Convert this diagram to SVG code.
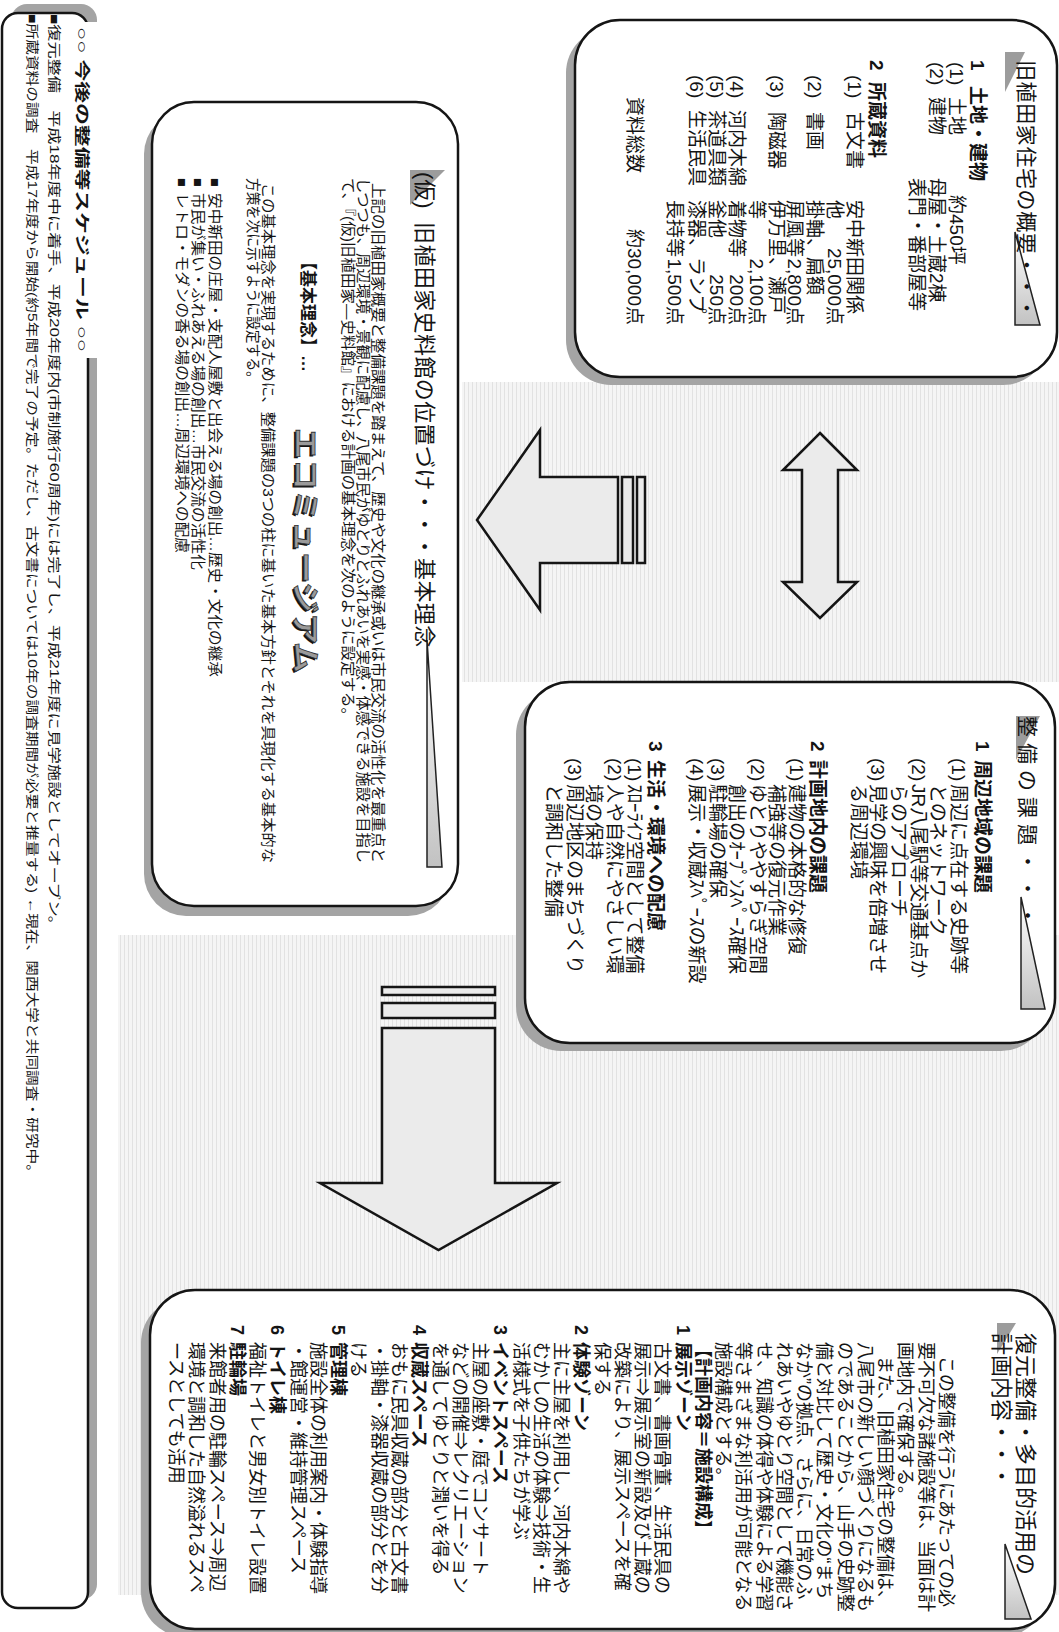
<svg xmlns="http://www.w3.org/2000/svg" width="1059" height="1632" viewBox="0 0 1059 1632">
<defs>
<style>
.t{font-family:"Liberation Sans","Noto Sans CJK JP",sans-serif;fill:#141414}
.f13{font-size:13px}
.f145{font-size:14.5px}
.f15{font-size:15px}
.f17{font-size:17px}
.f18{font-size:18px}
.f19{font-size:19px}
.f21{font-size:21px}
.f22{font-size:22px}
.b{font-weight:bold}
.end{text-anchor:end}
.box{fill:#fff;stroke:#151515;stroke-width:2.5}
.shadow{fill:#a4a4a4}
.flag{fill:#9c9c9c}
.tri{fill:url(#triGrad);stroke:#222;stroke-width:1.5;stroke-linejoin:miter}
.arrow{fill:#ebebeb;stroke:#151515;stroke-width:2.5;stroke-linejoin:miter}
.bg{fill:url(#stip)}
</style>
<linearGradient id="triGrad" x1="0" y1="0" x2="0" y2="1">
<stop offset="0" stop-color="#ffffff"/>
<stop offset="1" stop-color="#c2c2c2"/>
</linearGradient>
<pattern id="stip" width="4" height="4" patternUnits="userSpaceOnUse">
<rect width="4" height="4" fill="#f5f5f5"/>
<rect width="1" height="4" fill="#e2e2e2"/>
</pattern>
</defs>
<rect width="1059" height="1632" fill="#fff"/>
<rect class="bg" x="462" y="382" width="597" height="300"/>
<rect class="bg" x="118" y="935" width="941" height="660"/>

<!-- Left strip: schedule -->
<g id="schedule">
<rect class="shadow" x="11" y="4" width="86" height="1596" rx="16"/>
<rect class="box" x="2" y="13" width="86" height="1595" rx="16"/>
<rect x="74" y="22" width="26" height="336" fill="#fff"/>
<g transform="translate(1059 0) rotate(90)">
<text class="t f15 b" x="27" y="981.7" textLength="325" lengthAdjust="spacingAndGlyphs">○○ 今後の整備等スケジュール ○○</text>
<text class="t f13" x="14" y="1009" textLength="919" lengthAdjust="spacingAndGlyphs">■復元整備　平成18年度中に着手、平成20年度内(市制施行60周年)には完了し、平成21年度に見学施設としてオープン。</text>
<text class="t f13" x="14" y="1031" textLength="1166" lengthAdjust="spacingAndGlyphs">■所蔵資料の調査　平成17年度から開始(約5年間で完了の予定。ただし、古文書については10年の調査期間が必要と推量する) ←現在、関西大学と共同調査・研究中。</text>
</g>
</g>

<!-- Box A: overview -->
<g id="overview">
<rect class="shadow" x="566" y="28" width="482" height="357" rx="45"/>
<rect class="box" x="575" y="20" width="482" height="357" rx="45"/>
<polygon class="flag" points="1005,52 1025,52 1005,92"/>
<polygon class="tri" points="1015,232 1040,325 1015,325"/>
<g transform="translate(1059 0) rotate(90)">
<text class="t f21" x="60" y="40" letter-spacing="0.6">旧植田家住宅の概要・・・</text>
<text class="t f19 b" y="88"><tspan x="60">1</tspan><tspan x="86">土地・建物</tspan></text>
<text class="t f19" y="109"><tspan x="62">(1)</tspan><tspan x="97">土地</tspan><tspan x="195">約450坪</tspan></text>
<text class="t f19" y="129"><tspan x="62">(2)</tspan><tspan x="97">建物</tspan><tspan x="178">母屋・土蔵2棟</tspan></text>
<text class="t f19" x="178" y="149">表門・番部屋等</text>
<text class="t f19 b" y="189"><tspan x="60">2</tspan><tspan x="82">所蔵資料</tspan></text>
<text class="t f19" y="211"><tspan x="75">(1)</tspan><tspan x="112">古文書</tspan><tspan x="200">安中新田関係</tspan></text>
<text class="t f19" x="200" y="231">他</text>
<text class="t f19 end" x="325" y="231">25,000点</text>
<text class="t f19" y="251"><tspan x="75">(2)</tspan><tspan x="112">書画</tspan><tspan x="200">掛軸、扁額</tspan></text>
<text class="t f19" x="200" y="271">屏風等</text>
<text class="t f19 end" x="325" y="271">2,800点</text>
<text class="t f19" y="289"><tspan x="75">(3)</tspan><tspan x="112">陶磁器</tspan><tspan x="200">伊万里、瀬戸</tspan></text>
<text class="t f19" x="200" y="309">等</text>
<text class="t f19 end" x="325" y="309">2,100点</text>
<text class="t f19" y="329"><tspan x="75">(4)</tspan><tspan x="110">河内木綿</tspan><tspan x="200">着物等</tspan></text>
<text class="t f19 end" x="325" y="329">200点</text>
<text class="t f19" y="349"><tspan x="75">(5)</tspan><tspan x="110">茶道具類</tspan><tspan x="200">釜他</tspan></text>
<text class="t f19 end" x="325" y="349">250点</text>
<text class="t f19" y="369"><tspan x="75">(6)</tspan><tspan x="110">生活民具</tspan><tspan x="200">漆器、ランプ</tspan></text>
<text class="t f19" x="200" y="391">長持等</text>
<text class="t f19 end" x="325" y="391">1,500点</text>
<text class="t f19" x="97" y="431">資料総数</text>
<text class="t f19 end" x="325" y="431">約30,000点</text>
</g>
</g>

<!-- Box B: issues -->
<g id="issues">
<rect class="shadow" x="516" y="690" width="530" height="361" rx="45"/>
<rect class="box" x="525" y="682" width="530" height="361" rx="45"/>
<polygon class="flag" points="1016,716 1040,716 1016,760"/>
<polygon class="tri" points="1021,897 1045,1009 1021,1009"/>
<g transform="translate(1059 0) rotate(90)">
<text class="t f21" x="716" y="39" letter-spacing="6">整備の課題・・・</text>
<text class="t f19 b" y="83"><tspan x="741">1</tspan><tspan x="760">周辺地域の課題</tspan></text>
<text class="t f19" y="107"><tspan x="758">(1)</tspan><tspan x="784">周辺に点在する史跡等</tspan></text>
<text class="t f19" x="784" y="128">とのネットワーク</text>
<text class="t f19" y="147"><tspan x="758">(2)</tspan><tspan x="784">JR八尾駅等交通基点か</tspan></text>
<text class="t f19" x="784" y="167">らのアプローチ</text>
<text class="t f19" y="188"><tspan x="758">(3)</tspan><tspan x="784">見学の興味を倍増させ</tspan></text>
<text class="t f19" x="784" y="207">る周辺環境</text>
<text class="t f19 b" y="248"><tspan x="741">2</tspan><tspan x="760">計画地内の課題</tspan></text>
<text class="t f19" y="269"><tspan x="758">(1)</tspan><tspan x="784">建物の本格的な修復</tspan></text>
<text class="t f19" x="784" y="289">補強等の復元作業</text>
<text class="t f19" y="308"><tspan x="758">(2)</tspan><tspan x="784">ゆとりややすらぎ空間</tspan></text>
<text class="t f19" x="784" y="329">創出のｵｰﾌﾟﾝｽﾍﾟｰｽ確保</text>
<text class="t f19" y="348"><tspan x="758">(3)</tspan><tspan x="784">駐輪場の確保</tspan></text>
<text class="t f19" y="369"><tspan x="758">(4)</tspan><tspan x="784">展示・収蔵ｽﾍﾟｰｽの新設</tspan></text>
<text class="t f19 b" y="410"><tspan x="741">3</tspan><tspan x="760">生活・環境への配慮</tspan></text>
<text class="t f19" y="431"><tspan x="758">(1)</tspan><tspan x="784">ｽﾛｰﾗｲﾌ空間として整備</tspan></text>
<text class="t f19" y="451"><tspan x="758">(2)</tspan><tspan x="784">人や自然にやさしい環</tspan></text>
<text class="t f19" x="784" y="472">境の保持</text>
<text class="t f19" y="491"><tspan x="758">(3)</tspan><tspan x="784">周辺地区のまちづくり</tspan></text>
<text class="t f19" x="784" y="512">と調和した整備</text>
</g>
</g>

<!-- Box D: concept -->
<g id="concept">
<rect class="shadow" x="144" y="112" width="306" height="804" rx="42"/>
<rect class="box" x="152" y="102" width="306" height="804" rx="42"/>
<polygon class="flag" points="410,170 445,170 410,205"/>
<polygon class="tri" points="427,640 442,867 427,867"/>
<g transform="translate(1059 0) rotate(90)">
<text class="t f22" y="642.4"><tspan x="172">(仮)</tspan><tspan x="222" letter-spacing="0.4">旧植田家史料館の位置づけ・・・基本理念</tspan></text>
<text class="t f145" x="183" y="686.5" textLength="680" lengthAdjust="spacingAndGlyphs">上記の旧植田家概要と整備課題を踏まえて、歴史や文化の継承或いは市民交流の活性化を最重点と</text>
<text class="t f145" x="178" y="701.5" textLength="685" lengthAdjust="spacingAndGlyphs">しつつも、周辺環境・景観に配慮し、八尾市民がゆとりとふれあいを実感・体感できる施設を目指し</text>
<text class="t f145" x="178" y="716.5" textLength="545" lengthAdjust="spacingAndGlyphs">て、『(仮)旧植田家―史料館』における計画の基本理念を次のように設定する。</text>
<text class="t f17 b" x="253" y="757.5">【基本理念】…</text>
<text class="t b" x="429.5" y="766" font-size="28" textLength="245" lengthAdjust="spacingAndGlyphs" fill="#2a2a2a">エコミュージアム</text>
<text class="t b" x="428" y="763.6" font-size="28" textLength="245" lengthAdjust="spacingAndGlyphs" style="fill:#9a9a9a;stroke:#333;stroke-width:0.8">エコミュージアム</text>
<text class="t f145" x="183" y="796.5" textLength="680" lengthAdjust="spacingAndGlyphs">この基本理念を実現するために、整備課題の3つの柱に基いた基本方針とそれを具現化する基本的な</text>
<text class="t f145" x="178" y="811.5" textLength="207" lengthAdjust="spacingAndGlyphs">方策を次に示すように設定する。</text>
<text class="t f145" x="178" y="849.5">■</text>
<text class="t f145" x="193" y="849.5" textLength="484" lengthAdjust="spacingAndGlyphs">安中新田の庄屋・支配人屋敷と出会える場の創出…歴史・文化の継承</text>
<text class="t f145" x="178" y="866.5">■</text>
<text class="t f145" x="193" y="866.5" textLength="377" lengthAdjust="spacingAndGlyphs">市民が集い・ふれあえる場の創出…市民交流の活性化</text>
<text class="t f145" x="178" y="882.5">■</text>
<text class="t f145" x="193" y="882.5" textLength="360" lengthAdjust="spacingAndGlyphs">レトロ・モダンの香る場の創出…周辺環境への配慮</text>
</g>
</g>

<!-- Box C: plan -->
<g id="plan">
<rect class="shadow" x="141" y="1298" width="905" height="339" rx="45"/>
<rect class="box" x="150" y="1290" width="905" height="339" rx="45"/>
<polygon class="flag" points="997,1323 1016,1323 997,1354"/>
<polygon class="tri" points="1005,1544 1031,1619 1005,1619"/>
<g transform="translate(1059 0) rotate(90)">
<text class="t f22" x="1333" y="41.4">復元整備・多目的活用の</text>
<text class="t f22" x="1333" y="65.4">計画内容・・・</text>
<text class="t f18" x="1356" y="119">この整備を行うにあたっての必</text>
<text class="t f18" x="1342" y="139">要不可欠な諸施設等は、当面は計</text>
<text class="t f18" x="1342" y="160">画地内で確保する。</text>
<text class="t f18" x="1356" y="180">また、旧植田家住宅の整備は、</text>
<text class="t f18" x="1342" y="200">八尾市の新しい顔づくりになるも</text>
<text class="t f18" x="1342" y="220">のであることから、山手の史跡整</text>
<text class="t f18" x="1342" y="241">備と対比して歴史・文化の“まち</text>
<text class="t f18" x="1342" y="261">なか”の拠点、さらに、日常のふ</text>
<text class="t f18" x="1342" y="281">れあいやゆとり空間として機能さ</text>
<text class="t f18" x="1342" y="301">せ、知識の体得や体験による学習</text>
<text class="t f18" x="1342" y="322">等さまざまな利活用が可能となる</text>
<text class="t f18" x="1342" y="342">施設構成とする。</text>
<text class="t f18 b" x="1340" y="362">【計画内容＝施設構成】</text>
<text class="t f18 b" y="382"><tspan x="1325">1</tspan><tspan x="1342">展示ゾーン</tspan></text>
<text class="t f18" x="1342" y="403">古文書、書画骨董、生活民具の</text>
<text class="t f18" x="1342" y="423">展示⇒展示室の新設及び土蔵の</text>
<text class="t f18" x="1342" y="443">改築により、展示スペースを確</text>
<text class="t f18" x="1342" y="463">保する</text>
<text class="t f18 b" y="484"><tspan x="1325">2</tspan><tspan x="1342">体験ゾーン</tspan></text>
<text class="t f18" x="1342" y="504">主に主屋を利用し、河内木綿や</text>
<text class="t f18" x="1342" y="524">むかしの生活の体験⇒技術・生</text>
<text class="t f18" x="1342" y="544">活様式を子供たちが学ぶ</text>
<text class="t f18 b" y="565"><tspan x="1325">3</tspan><tspan x="1342">イベントスペース</tspan></text>
<text class="t f18" x="1342" y="585">主屋の座敷・庭でコンサート</text>
<text class="t f18" x="1342" y="605">などの開催⇒レクリエーション</text>
<text class="t f18" x="1342" y="625">を通してゆとりと潤いを得る</text>
<text class="t f18 b" y="646"><tspan x="1325">4</tspan><tspan x="1342">収蔵スペース</tspan></text>
<text class="t f18" x="1342" y="666">おもに民具収蔵の部分と古文書</text>
<text class="t f18" x="1342" y="686">・掛軸・漆器収蔵の部分とを分</text>
<text class="t f18" x="1342" y="707">ける</text>
<text class="t f18 b" y="727"><tspan x="1325">5</tspan><tspan x="1342">管理棟</tspan></text>
<text class="t f18" x="1342" y="747">施設全体の利用案内・体験指導</text>
<text class="t f18" x="1342" y="767">・館運営・維持管理スペース</text>
<text class="t f18 b" y="788"><tspan x="1325">6</tspan><tspan x="1342">トイレ棟</tspan></text>
<text class="t f18" x="1342" y="808">福祉トイレと男女別トイレ設置</text>
<text class="t f18 b" y="828"><tspan x="1325">7</tspan><tspan x="1342">駐輪場</tspan></text>
<text class="t f18" x="1342" y="848">来館者用の駐輪スペース⇒周辺</text>
<text class="t f18" x="1342" y="869">環境と調和した自然溢れるスペ</text>
<text class="t f18" x="1342" y="889">ースとしても活用</text>
</g>
</g>

<!-- Connectors: block arrows -->
<g id="connectors">
<polygon class="arrow" points="820,433 857,470 838,470 838,582 857,582 820,618 783,582 802,582 802,470 783,470"/>
<polygon class="arrow" points="477,520 540,430 540,477 618,477 618,563 540,563 540,610"/>
<rect class="arrow" x="622" y="477" width="11" height="86"/>
<rect class="arrow" x="637" y="477" width="8" height="86"/>
<rect class="arrow" x="382" y="987" width="113" height="8"/>
<rect class="arrow" x="382" y="1003" width="113" height="15"/>
<polygon class="arrow" points="382,1028 495,1028 495,1183 557,1183 438.5,1250 320,1183 382,1183"/>
</g>
</svg>
